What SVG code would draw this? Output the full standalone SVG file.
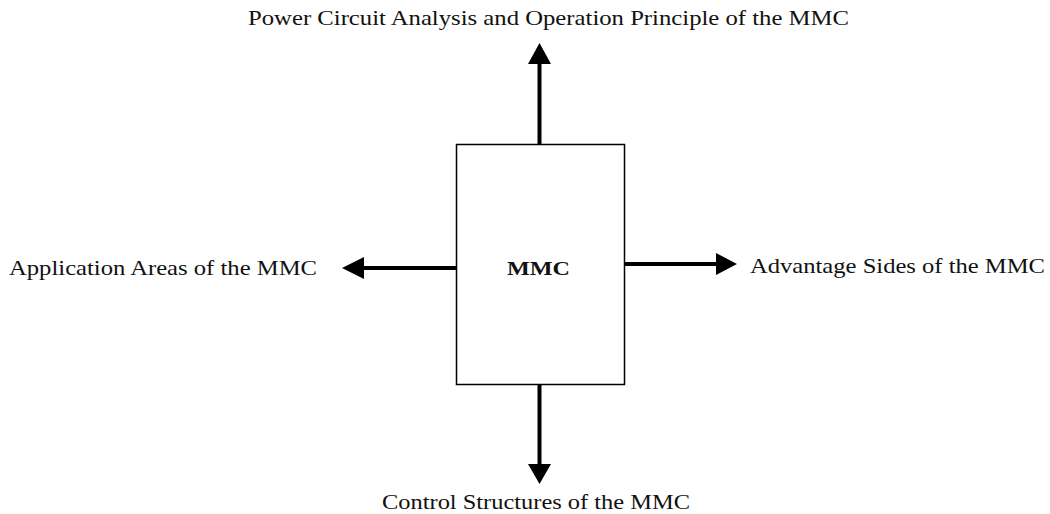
<svg xmlns="http://www.w3.org/2000/svg" width="1050" height="514" viewBox="0 0 1050 514">
<style>
text{font-family:"Liberation Serif","Times New Roman",serif;fill:#111;font-size:21px}
.box{fill:#fff;stroke:#000;stroke-width:1.5}
.conn{stroke:#000;stroke-width:4;fill:none}
.head{fill:#000}
</style>
<rect width="1050" height="514" fill="#fff"/>
<g id="connectors">
<line class="conn" x1="539.5" y1="144" x2="539.5" y2="62"/>
<polygon class="head" points="539.5,43 528,64 551,64"/>
<line class="conn" x1="456" y1="268" x2="362" y2="268"/>
<polygon class="head" points="342,268 364,257 364,279"/>
<line class="conn" x1="625" y1="264" x2="718" y2="264"/>
<polygon class="head" points="737,264 716,253 716,275"/>
<line class="conn" x1="539.5" y1="385" x2="539.5" y2="466"/>
<polygon class="head" points="539.5,484 528,464 551,464"/>
</g>
<g id="mmc">
<rect class="box" x="456.5" y="144.5" width="168" height="240"/>
<text x="507" y="275" style="font-weight:bold;font-size:19px" textLength="63" lengthAdjust="spacingAndGlyphs">MMC</text>
</g>
<g id="top"><text x="248" y="25" textLength="601" lengthAdjust="spacingAndGlyphs">Power Circuit Analysis and Operation Principle of the MMC</text></g>
<g id="left"><text x="9" y="275" textLength="308" lengthAdjust="spacingAndGlyphs">Application Areas of the MMC</text></g>
<g id="right"><text x="750" y="273" textLength="295" lengthAdjust="spacingAndGlyphs">Advantage Sides of the MMC</text></g>
<g id="bottom"><text x="382" y="509" textLength="308" lengthAdjust="spacingAndGlyphs">Control Structures of the MMC</text></g>
</svg>
